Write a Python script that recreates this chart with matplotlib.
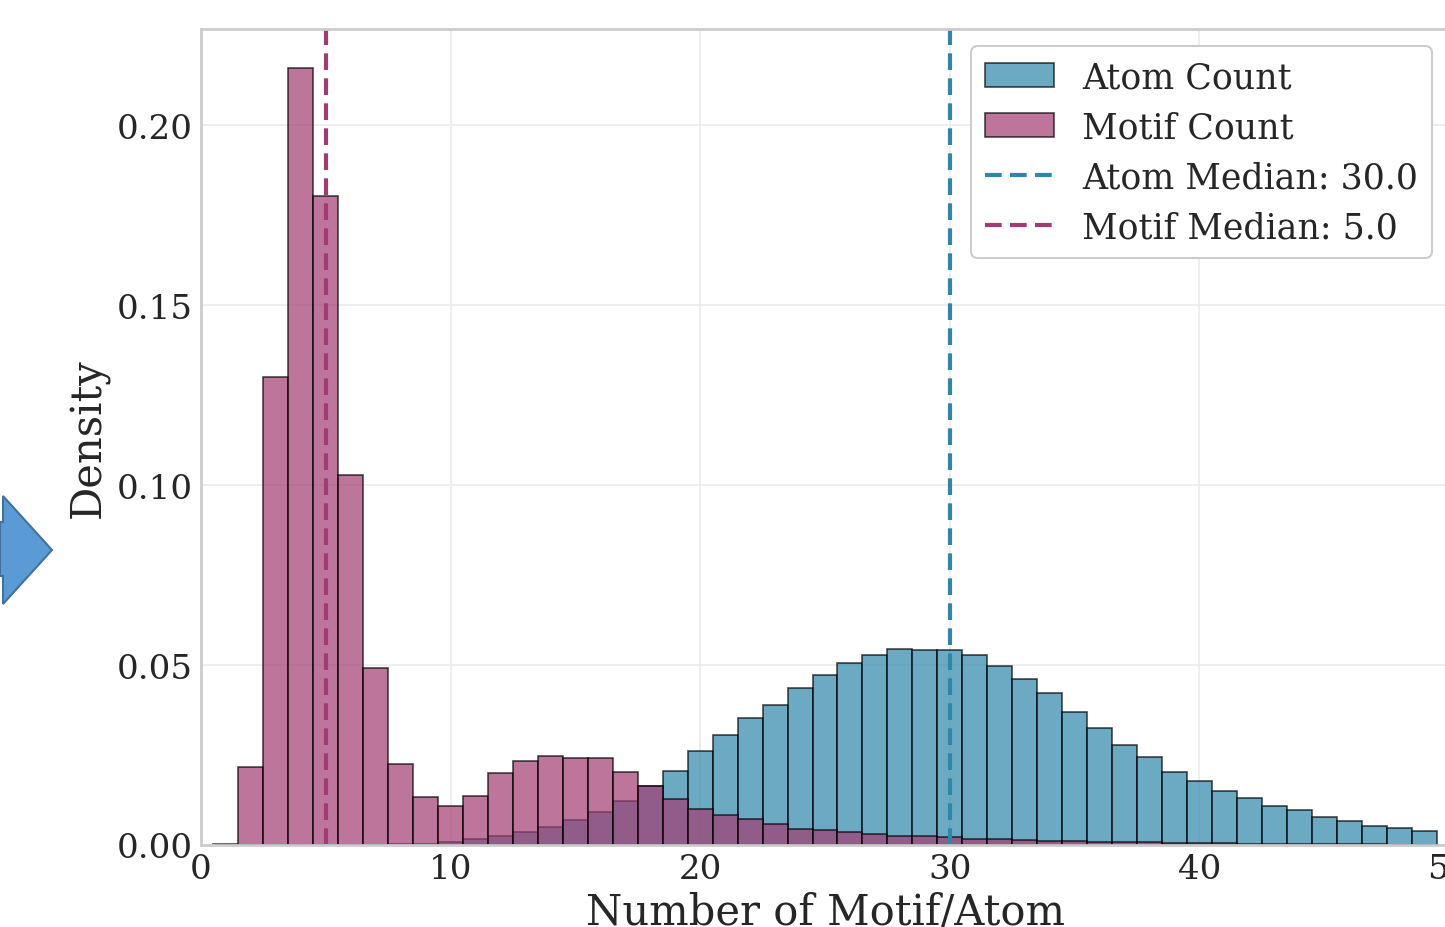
import matplotlib
matplotlib.use("Agg")
import matplotlib.pyplot as plt
import numpy as np
from matplotlib.patches import Polygon

# histogram bins: unit width, centred on integers 1..49
bin_edges = np.arange(0.5, 50.0, 1.0)
bin_centers = np.arange(1, 50)

# density per bin
atom_density = [
    0.0, 0.0, 0.0, 0.0, 0.0, 0.0001, 0.0001, 0.0002, 0.0004, 0.0008,
    0.0017, 0.0025, 0.0036, 0.0050, 0.0070, 0.0092, 0.0123, 0.0163, 0.0206, 0.0260,
    0.0306, 0.0353, 0.0390, 0.0436, 0.0472, 0.0506, 0.0528, 0.0545, 0.0542, 0.0542,
    0.0529, 0.0498, 0.0461, 0.0421, 0.0370, 0.0324, 0.0279, 0.0245, 0.0204, 0.0179,
    0.0151, 0.0131, 0.0108, 0.0097, 0.0077, 0.0066, 0.0054, 0.0048, 0.0039,
]
motif_density = [
    0.0003, 0.0217, 0.1300, 0.2158, 0.1803, 0.1028, 0.0492, 0.0225, 0.0134, 0.0109,
    0.0137, 0.0200, 0.0234, 0.0248, 0.0241, 0.0242, 0.0204, 0.0165, 0.0129, 0.0100,
    0.0084, 0.0072, 0.0059, 0.0044, 0.0043, 0.0037, 0.0031, 0.0026, 0.0026, 0.0021,
    0.0017, 0.0017, 0.0015, 0.0012, 0.0012, 0.0009, 0.0008, 0.0007, 0.0006, 0.0005,
    0.0005, 0.0004, 0.0003, 0.0003, 0.0002, 0.0002, 0.0002, 0.0001, 0.0001,
]
atom_median = 30.0
motif_median = 5.0

atom_color = "#2E86AB"
motif_color = "#A23B72"

plt.style.use("seaborn-v0_8-whitegrid")
plt.rcParams["font.family"] = ["DejaVu Serif"]

fig = plt.figure(figsize=(14.45, 9.28), dpi=100)
ax = fig.add_axes([201 / 1445, (928 - 846) / 928, 1248 / 1445, 816 / 928])

ax.hist(bin_centers, bins=bin_edges, weights=atom_density, color=atom_color,
        alpha=0.7, edgecolor="black", linewidth=1.2, label="Atom Count")
ax.hist(bin_centers, bins=bin_edges, weights=motif_density, color=motif_color,
        alpha=0.7, edgecolor="black", linewidth=1.2, label="Motif Count")
ax.axvline(atom_median, color=atom_color, linestyle=(0, (4, 2)), linewidth=3,
           label=f"Atom Median: {atom_median}")
ax.axvline(motif_median, color=motif_color, linestyle=(0, (4, 2)), linewidth=3,
           label=f"Motif Median: {motif_median}")

ax.set_xlim(0, 50)
ax.set_ylim(0, 0.2267)
ax.set_yticks([0.0, 0.05, 0.10, 0.15, 0.20])
ax.set_xticks([0, 10, 20, 30, 40, 50])
ax.tick_params(axis="both", labelsize=24.5, pad=6)
ax.tick_params(axis="x", pad=6)
ax.set_xlabel("Number of Motif/Atom", fontsize=30, labelpad=4)
ax.set_ylabel("Density", fontsize=30, labelpad=5)

for s in ax.spines.values():
    s.set_color("#cccccc")
    s.set_linewidth(2)
ax.grid(True, color="#ebebeb", linewidth=1.2)

leg = ax.legend(loc="upper right", fontsize=25, frameon=True, framealpha=1,
                edgecolor="#cccccc", fancybox=True, labelspacing=0.46)
leg.get_frame().set_linewidth(1.5)

# slide arrow fragment at the left edge
arrow = Polygon([(0, 523), (3, 523), (3, 497), (52, 551), (3, 605), (3, 577), (0, 577)],
                closed=True, facecolor="#5B9BD5", edgecolor="#41719C", linewidth=1.5,
                transform=None)
arrow.set_xy([(x, 928 - y) for x, y in arrow.get_xy()])
fig.patches.append(arrow)

fig.savefig("out.png", dpi=100)
